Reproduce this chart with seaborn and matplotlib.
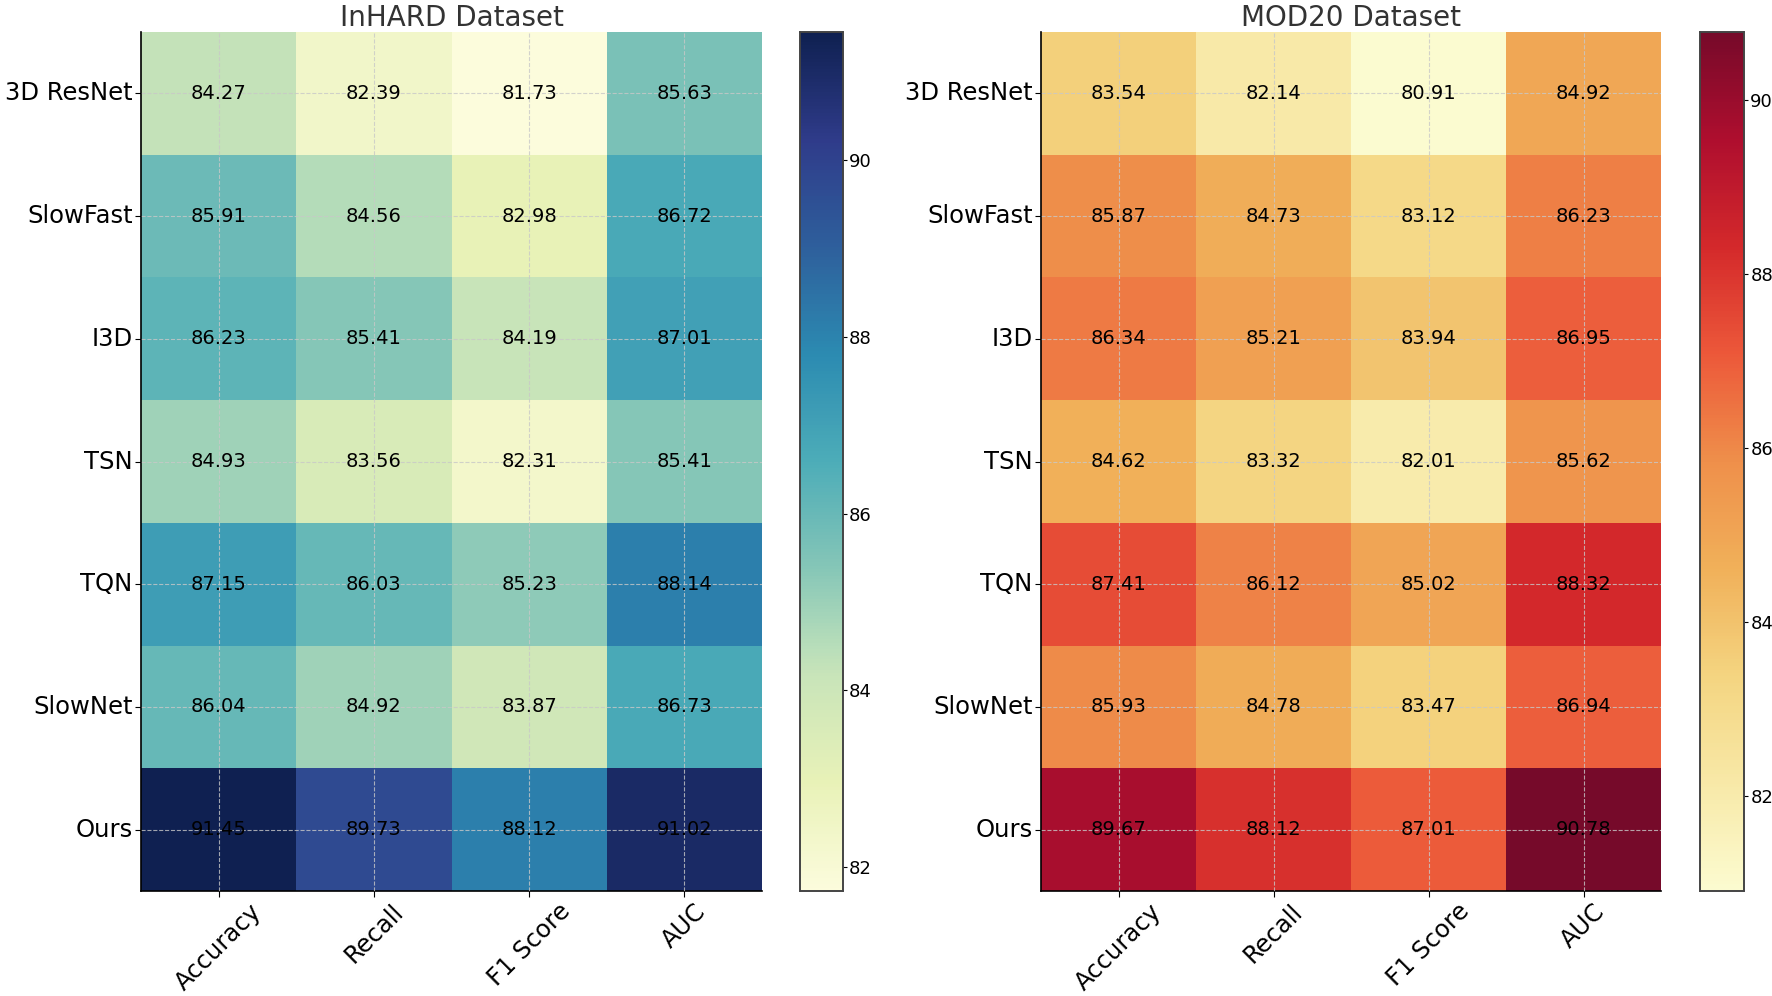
import numpy as np
import pandas as pd
import matplotlib
matplotlib.use("Agg")
import matplotlib.pyplot as plt
from matplotlib.colors import ListedColormap
import seaborn as sns

models = ["3D ResNet", "SlowFast", "I3D", "TSN", "TQN", "SlowNet", "Ours"]
metrics = ["Accuracy", "Recall", "F1 Score", "AUC"]

inhard_acc = [84.27, 85.91, 86.23, 84.93, 87.15, 86.04, 91.45]
inhard_rec = [82.39, 84.56, 85.41, 83.56, 86.03, 84.92, 89.73]
inhard_f1 = [81.73, 82.98, 84.19, 82.31, 85.23, 83.87, 88.12]
inhard_auc = [85.63, 86.72, 87.01, 85.41, 88.14, 86.73, 91.02]

mod20_acc = [83.54, 85.87, 86.34, 84.62, 87.41, 85.93, 89.67]
mod20_rec = [82.14, 84.73, 85.21, 83.32, 86.12, 84.78, 88.12]
mod20_f1 = [80.91, 83.12, 83.94, 82.01, 85.02, 83.47, 87.01]
mod20_auc = [84.92, 86.23, 86.95, 85.62, 88.32, 86.94, 90.78]

inhard = pd.DataFrame(dict(zip(metrics, [inhard_acc, inhard_rec, inhard_f1, inhard_auc])),
                      index=models)
mod20 = pd.DataFrame(dict(zip(metrics, [mod20_acc, mod20_rec, mod20_f1, mod20_auc])),
                     index=models)

# slightly muted versions of the standard colormaps
blues = ListedColormap(sns.color_palette("YlGnBu", 256, desat=0.82))
reds = ListedColormap(sns.color_palette("YlOrRd", 256, desat=0.85))

fig = plt.figure(figsize=(17.72, 9.96), dpi=100)

W, H = 1772.0, 996.0
panels = [
    (inhard, blues, "InHARD Dataset", (141, 762), (800, 843)),
    (mod20, reds, "MOD20 Dataset", (1041, 1661), (1700, 1744)),
]
top, bottom = 32, 891

for df, cmap, title, (x0, x1), (c0, c1) in panels:
    ax = fig.add_axes([x0 / W, 1 - bottom / H, (x1 - x0) / W, (bottom - top) / H])
    cax = fig.add_axes([c0 / W, 1 - bottom / H, (c1 - c0) / W, (bottom - top) / H])
    sns.heatmap(df, cmap=cmap, annot=True, fmt=".2f", ax=ax, cbar_ax=cax,
                annot_kws={"fontsize": 14, "color": "black"})
    ax.set_title(title, fontsize=20, color="#333333", pad=4)
    ax.tick_params(axis="y", labelsize=17.5, rotation=0, length=4, pad=2)
    ax.tick_params(axis="x", labelsize=17.5, length=4, pad=2)
    plt.setp(ax.get_xticklabels(), rotation=45, ha="center")
    ax.grid(True, linestyle="--", color="#c8c8c8", linewidth=0.8, alpha=0.8)
    ax.set_axisbelow(False)
    for side in ["left", "bottom"]:
        ax.spines[side].set_visible(True)
        ax.spines[side].set_color("black")
        ax.spines[side].set_linewidth(1.2)
    cax.tick_params(labelsize=13, length=3, pad=1.5)
    cax.set_yticks([82, 84, 86, 88, 90])
    for s in cax.spines.values():
        s.set_visible(True)
        s.set_color("#444444")
        s.set_linewidth(1.2)

fig.savefig("out.png", dpi=100)
